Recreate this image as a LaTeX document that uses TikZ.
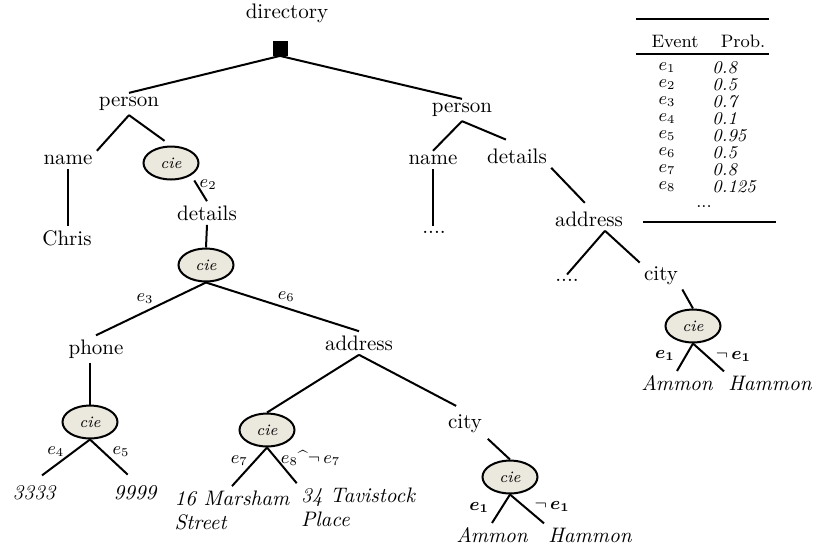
\documentclass[tikz,border=0pt]{standalone}
\usepackage{amsmath}
\usepackage{amssymb}
\usepackage{xcolor}
\usepackage{tikz}
\usetikzlibrary{shapes.geometric}

\definecolor{ciefill}{RGB}{235,233,222}

\begin{document}
\begin{tikzpicture}[
    x=0.5pt,y=-0.5pt,
    tag/.style={font=\fontsize{10.5}{12}\selectfont,inner sep=2pt},
    leaf/.style={font=\fontsize{10.5}{12}\selectfont\itshape,inner sep=2pt,align=left},
    cie/.style={ellipse,draw,line width=1pt,fill=ciefill,minimum width=27.5pt,minimum height=16.5pt,inner sep=0pt,font=\footnotesize\itshape},
    lab/.style={font=\small,inner sep=1pt},
    ev/.style={font=\small,inner sep=0pt},
    every edge/.style={draw,line width=1pt}
]
    \useasboundingbox (0,0) rectangle (814,548);

    % Root
    \node[tag] (DIRLBL) at (287,13) {directory};
    \node[fill=black,minimum size=7.5pt,inner sep=0pt] (DIR) at (280,48) {};

    % Left person
    \node[tag] (P1) at (129,104) {person};
    \node[tag] (NAME1) at (68,160) {name};
    \node[cie] (CIE1) at (171,163) {cie};
    \node[tag] (CHRIS) at (67,238) {Chris};
    \node[tag] (DET1) at (207,213) {details};
    \node[cie] (CIE2) at (206,265) {cie};
    \node[tag] (PHONE) at (96,349) {phone};
    \node[cie] (CIE3) at (90,422) {cie};
    \node[leaf] (N3333) at (34,493) {3333};
    \node[leaf] (N9999) at (135,493) {9999};
    \node[tag] (ADDR1) at (359,343) {address};
    \node[cie] (CIE4) at (267,430) {cie};
    \node[leaf] (MARSH) at (232,510) {16 Marsham\\Street};
    \node[leaf] (TAVI) at (358,507) {34 Tavistock\\Place};
    \node[tag] (CITY1) at (465,424) {city};
    \node[cie] (CIE5) at (510,477) {cie};
    \node[leaf] (AMM1) at (492,535) {Ammon};
    \node[leaf] (HAM1) at (590,535) {Hammon};

    % Right person
    \node[tag] (P2) at (462,110) {person};
    \node[tag] (NAME2) at (433,160) {name};
    \node[tag] (DET2) at (517,156) {details};
    \node[tag] (DOTS2) at (434,232) {....};
    \node[tag] (ADDR2) at (589,219) {address};
    \node[tag] (DOTS3) at (567,280) {....};
    \node[tag] (CITY2) at (661,276) {city};
    \node[cie] (CIE6) at (693,326) {cie};
    \node[leaf] (AMM2) at (677,383) {Ammon};
    \node[leaf] (HAM2) at (770,383) {Hammon};

    % Tree edges
    \path (DIR.south) edge (P1.north);
    \path (DIR.south) edge (P2.north);
    \path (P1.south) edge (NAME1.north east);
    \path (P1.south) edge[shorten >=4pt] (CIE1.north);
    \path (NAME1.south) edge (NAME1.south |- CHRIS.north);
    \path (CIE1.south east) edge[shorten <=3pt] node[lab,right,pos=0.35] {$e_2$} (DET1.north);
    \path (DET1.south) edge (CIE2.north);
    \path (CIE2.south) edge node[lab,above left,pos=0.45] {$e_3$} (PHONE.north);
    \path (CIE2.south) edge node[lab,above right,pos=0.45] {$e_6$} (ADDR1.north);
    \path (PHONE.south -| CIE3.north) edge (CIE3.north);
    \path (CIE3.south) edge[shorten >=5pt] node[lab,left=3pt,pos=0.3] {$e_4$} (N3333.north);
    \path (CIE3.south) edge[shorten >=5pt] node[lab,right=3pt,pos=0.3] {$e_5$} (N9999.north);
    \path (ADDR1.south) edge (CIE4.north);
    \path (ADDR1.south) edge[shorten >=5pt] (CITY1.north);
    \path (CIE4.south) edge node[lab,left=2pt,pos=0.35] {$e_7$} (MARSH.north);
    \path (CIE4.south) edge node[lab,right=1pt,pos=0.3] {$e_8$\textasciicircum$\neg\,e_7$} (TAVI.north west);
    \path (CITY1.south east) edge[shorten <=1pt] (CIE5.north);
    \path (CIE5.south) edge node[lab,left=5pt,pos=0.45] {$\boldsymbol{e_1}$} (AMM1.north);
    \path (CIE5.south) edge node[lab,right=4pt,pos=0.4] {$\neg\,\boldsymbol{e_1}$} (HAM1.north west);

    \path (P2.south) edge (NAME2.north);
    \path (P2.south) edge[shorten >=6pt] (DET2.north);
    \path (NAME2.south) edge (NAME2.south |- DOTS2.north);
    \path (DET2.south east) edge[shorten >=3pt] (ADDR2.north);
    \path ([xshift=8pt]ADDR2.south) edge (DOTS3.north);
    \path ([xshift=8pt]ADDR2.south) edge (CITY2.north west);
    \path (CITY2.south east) edge (CIE6.north);
    \path (CIE6.south) edge node[lab,left=4pt,pos=0.45] {$\boldsymbol{e_1}$} (AMM2.north);
    \path (CIE6.south) edge node[lab,right=3pt,pos=0.45] {$\neg\,\boldsymbol{e_1}$} (HAM2.north west);

    % Probability table
    \draw[line width=1pt] (636,19) -- (769,19);
    \node[ev] (EVH) at (675,41) {Event};
    \node[ev] (PRH) at (743,41) {Prob.};
    \draw[line width=1pt] (636,54) -- (769,54);
    \foreach \i/\p in {1/0.8,2/0.5,3/0.7,4/0.1,5/0.95,6/0.5,7/0.8,8/0.125} {
        \node[ev] (EV\i) at (667,{68+17*(\i-1)}) {$e_{\i}$};
        \node[ev,anchor=west] (PR\i) at (712,{68+17*(\i-1)}) {\itshape\p};
    }
    \node[ev] (MORE) at (704,207) {...};
    \draw[line width=1pt] (643,222) -- (776,222);
\end{tikzpicture}
\end{document}
